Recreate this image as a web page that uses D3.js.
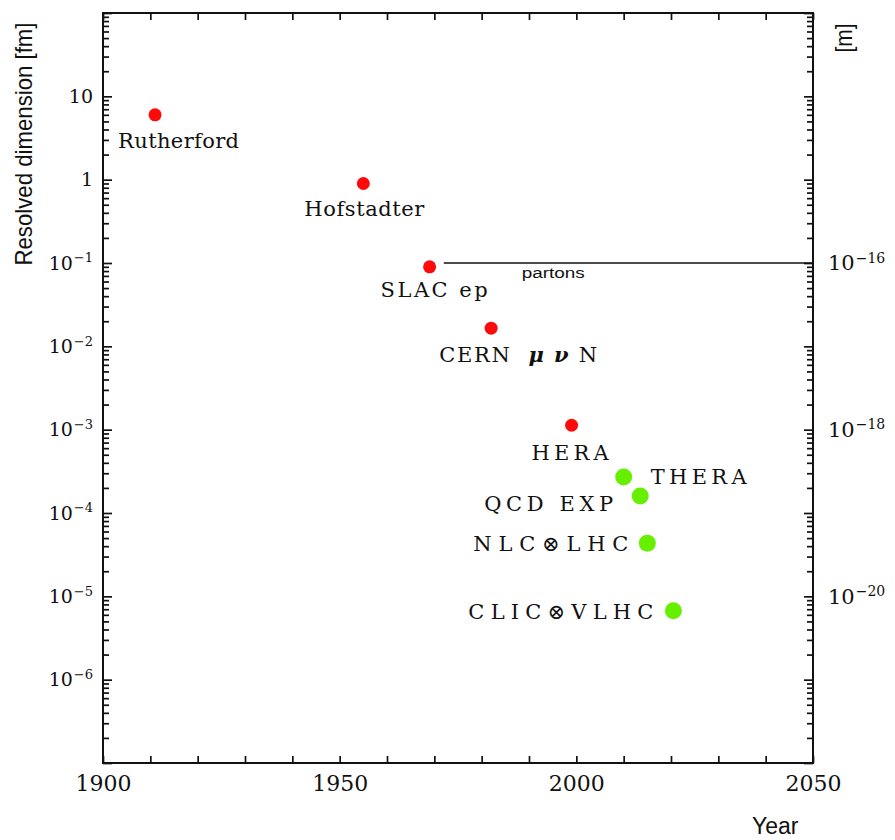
<!DOCTYPE html>
<html>
<head>
<meta charset="utf-8">
<script src="https://cdn.jsdelivr.net/npm/d3@7"></script>
<style>
  body { margin: 0; background: #fff; }
  text { fill: #111; }
</style>
</head>
<body>
<script>
// experiments, year and resolved size in fm
const names = ["Rutherford", "Hofstadter", "SLAC ep", "CERN  μ ν N", "HERA",
               "THERA", "QCD EXP", "NLC⊗LHC", "CLIC⊗VLHC"];
const years = [1911, 1955, 1969, 1982, 1999, 2010, 2013.5, 2015, 2020.5];
const sizesFm = [6, 0.9, 0.09, 0.0165, 0.00113, 0.00027, 0.00016, 0.0000435, 0.0000067];
const status = ["done", "done", "done", "done", "done", "future", "future", "future", "future"];

// parton line
const partonYears = [1972, 2050];
const partonSize = 0.1;

const xTicks = d3.range(1900, 2051, 10);
const xLabels = [1900, 1950, 2000, 2050];
const leftLabelExp = [1, 0, -1, -2, -3, -4, -5, -6];
const rightLabelExp = [-16, -18, -20];

// label placement relative to the dot (layout only)
const labelDx = [-37, -59, -49, -52, -40, 27, -156, -174, -205];
const labelDy = [33, 33, 30, 34, 35, 7, 15, 8, 8];
const labelW = [121, 120, 107, 158, 77, 96, 129, 155, 185];

const W = 895, H = 840;
const pL = 103, pR = 813, pT = 13, pB = 763;
const serif = "'DejaVu Serif', serif";
const sans = "'Liberation Sans', Arial, sans-serif";

const x = d3.scaleLinear().domain([1900, 2050]).range([pL, pR]);
const y = d3.scaleLog().domain([1e-7, 100]).range([pB, pT]);
const yM = d3.scaleLog().domain([1e-22, 1e-13]).range([pB, pT]);

const svg = d3.select("body").append("svg")
  .attr("width", W).attr("height", H)
  .style("font-family", serif);

function decades(lo, hi) {
  const major = [], minor = [];
  for (let e = lo; e <= hi; e++) {
    major.push(Math.pow(10, e));
    if (e < hi) {
      for (let k = 2; k <= 9; k++) minor.push(k * Math.pow(10, e));
    }
  }
  return { major, minor };
}

function expText(supSize) {
  return sel => sel.each(function (d) {
    const e = Math.round(Math.log10(d));
    const t = d3.select(this).text(null);
    if (e === 1) t.text("10");
    else if (e === 0) t.text("1");
    else {
      t.append("tspan").text("10");
      t.append("tspan").attr("dy", "-0.55em").attr("dx", 1)
        .attr("font-size", supSize).text("−" + Math.abs(e));
    }
  });
}

function styleAxis(g) {
  g.select(".domain").remove();
  g.selectAll(".tick line").attr("stroke", "#111").attr("stroke-width", 1.7);
}

// left axis
const dL = decades(-7, 2);
svg.append("g").attr("transform", `translate(${pL},0)`)
  .call(d3.axisLeft(y).tickValues(dL.minor).tickSize(-6).tickFormat(() => ""))
  .call(styleAxis);
svg.append("g").attr("transform", `translate(${pL},0)`)
  .call(d3.axisLeft(y).tickValues(dL.major).tickSize(-9).tickPadding(10).tickFormat(() => ""))
  .call(styleAxis)
  .call(g => g.selectAll(".tick text")
    .filter(d => leftLabelExp.includes(Math.round(Math.log10(d))))
    .attr("font-size", 19).attr("font-family", serif)
    .call(expText(13)));

// right axis (metres)
const dR = decades(-22, -13);
svg.append("g").attr("transform", `translate(${pR},0)`)
  .call(d3.axisRight(yM).tickValues(dR.minor).tickSize(-6).tickFormat(() => ""))
  .call(styleAxis);
svg.append("g").attr("transform", `translate(${pR},0)`)
  .call(d3.axisRight(yM).tickValues(dR.major).tickSize(-9).tickPadding(15).tickFormat(() => ""))
  .call(styleAxis)
  .call(g => g.selectAll(".tick text")
    .filter(d => rightLabelExp.includes(Math.round(Math.log10(d))))
    .attr("font-size", 21).attr("font-family", serif)
    .call(expText(14)));

// bottom and top axes
svg.append("g").attr("transform", `translate(0,${pB})`)
  .call(d3.axisBottom(x).tickValues(xTicks).tickSize(-7).tickPadding(12)
    .tickFormat(d => xLabels.includes(d) ? d : ""))
  .call(styleAxis)
  .call(g => g.selectAll(".tick text").attr("font-size", 22).attr("font-family", serif));
svg.append("g").attr("transform", `translate(0,${pT})`)
  .call(d3.axisTop(x).tickValues(xTicks).tickSize(-7).tickFormat(() => ""))
  .call(styleAxis);

// frame
svg.append("rect")
  .attr("x", pL).attr("y", pT)
  .attr("width", pR - pL).attr("height", pB - pT)
  .attr("fill", "none").attr("stroke", "#111").attr("stroke-width", 2);

// axis titles
svg.append("text")
  .attr("transform", `translate(32,${(pT + y(partonSize)) / 2 + 6}) rotate(-90)`)
  .attr("text-anchor", "middle")
  .attr("font-family", sans)
  .attr("font-size", 24)
  .attr("textLength", 243).attr("lengthAdjust", "spacingAndGlyphs")
  .text("Resolved dimension [fm]");

svg.append("text")
  .attr("transform", `translate(852,38) rotate(-90)`)
  .attr("text-anchor", "middle")
  .attr("font-family", sans)
  .attr("font-size", 24)
  .attr("textLength", 29).attr("lengthAdjust", "spacingAndGlyphs")
  .text("[m]");

svg.append("text")
  .attr("x", 752).attr("y", 834)
  .attr("font-family", sans)
  .attr("font-size", 23)
  .text("Year");

// partons line
svg.append("line")
  .attr("x1", x(partonYears[0])).attr("x2", x(partonYears[1]))
  .attr("y1", y(partonSize)).attr("y2", y(partonSize))
  .attr("stroke", "#111").attr("stroke-width", 1.5);
svg.append("text")
  .attr("x", x(partonYears[0]) + 78).attr("y", y(partonSize) + 15)
  .attr("font-family", sans)
  .attr("font-size", 14)
  .attr("textLength", 63).attr("lengthAdjust", "spacingAndGlyphs")
  .text("partons");

// points
const pts = names.map((n, i) => ({ name: n, year: years[i], size: sizesFm[i], status: status[i], i }));

svg.append("g").selectAll("circle")
  .data(pts)
  .join("circle")
  .attr("cx", d => x(d.year))
  .attr("cy", d => y(d.size))
  .attr("r", d => d.status === "done" ? 6.5 : 8.5)
  .attr("fill", d => d.status === "done" ? "#ff0a0a" : "#66f000");

// labels
svg.append("g").selectAll("text")
  .data(pts)
  .join("text")
  .attr("x", d => x(d.year) + labelDx[d.i])
  .attr("y", d => y(d.size) + labelDy[d.i])
  .attr("font-size", 21)
  .attr("textLength", d => labelW[d.i]).attr("lengthAdjust", "spacing")
  .style("white-space", "pre")
  .each(function (d) {
    const t = d3.select(this);
    // greek letters drawn italic
    const parts = d.name.match(/[μν]+|[^μν]+/g);
    parts.forEach(p => {
      const s = t.append("tspan").text(p);
      if (/[μν]/.test(p)) s.attr("font-style", "italic").attr("font-weight", "bold");
    });
  });
</script>
</body>
</html>
